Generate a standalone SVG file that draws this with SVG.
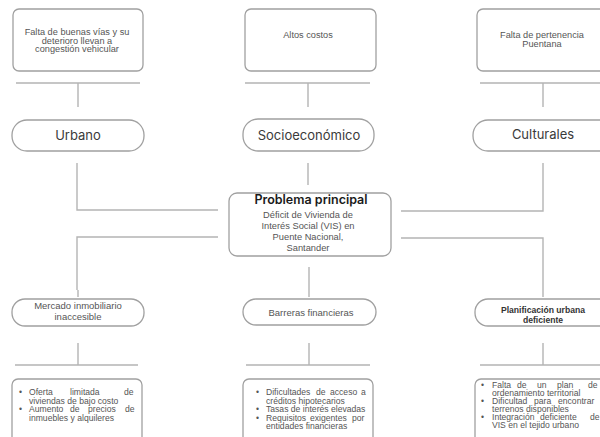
<svg xmlns="http://www.w3.org/2000/svg" width="600" height="437" viewBox="0 0 600 437">
<style>
.box{fill:#fff;stroke:#a0a0a0;stroke-width:1.3}
.ln{fill:none;stroke:#b4b4b4;stroke-width:1.4}
.sm{font-family:"Liberation Sans",Arial,sans-serif;font-size:9.2px;fill:#555}
.lb{font-family:Inter,"Liberation Sans",sans-serif;font-size:13px;fill:#3a3a3a}
.md{font-family:"Liberation Sans",Arial,sans-serif;font-size:9.3px;fill:#555}
.pl{font-family:"Liberation Sans",Arial,sans-serif;font-size:9.5px;fill:#555}
.ls{font-family:"Liberation Sans",Arial,sans-serif;font-size:8.6px;fill:#555}
.c{text-anchor:middle}
</style>
<rect width="600" height="437" fill="#fff"/>
<g id="connectors">
<path class="ln" d="M16 83H140M78 83V107"/>
<path class="ln" d="M245 83H370M308 83V107"/>
<path class="ln" d="M480 83H600M543 83V107"/>
<path class="ln" d="M77 163V210H218M218 237H77V290"/>
<path class="ln" d="M543 163V211H401M401 238H543V290"/>
<path class="ln" d="M308 163V185M309 267V290"/>
<path class="ln" d="M78 290V297M309 290V297M543 290V297"/>
<path class="ln" d="M78 343V365M15 365H138"/>
<path class="ln" d="M309 343V365M246 365H370"/>
<path class="ln" d="M543 343V365M480 365H600"/>
</g>
<g id="n-vias">
<rect class="box" x="13" y="9" width="130" height="62" rx="6"/>
<text class="sm c" x="77" y="35">Falta de buenas vías y su</text>
<text class="sm c" x="77" y="43.5">deterioro llevan a</text>
<text class="sm c" x="77" y="52">congestión vehicular</text>
</g>
<g id="n-costos">
<rect class="box" x="245" y="9" width="131" height="62" rx="6"/>
<text class="sm c" x="308" y="38">Altos costos</text>
</g>
<g id="n-pertenencia">
<rect class="box" x="477" y="9" width="140" height="62" rx="6"/>
<text class="sm c" x="542" y="38">Falta de pertenencia</text>
<text class="sm c" x="542" y="46.5">Puentana</text>
</g>
<g id="n-urbano">
<rect class="box" x="12" y="120" width="132" height="31" rx="15"/>
<text class="lb c" x="78" y="140">Urbano</text>
</g>
<g id="n-socio">
<rect class="box" x="243" y="119" width="131" height="32" rx="15"/>
<text class="lb c" x="309" y="140">Socioeconómico</text>
</g>
<g id="n-culturales">
<rect class="box" x="473" y="120" width="150" height="31" rx="15"/>
<text class="lb c" x="543" y="139">Culturales</text>
</g>
<g id="n-principal">
<rect class="box" x="229" y="193" width="162" height="63" rx="8"/>
<text class="c" x="311" y="204" style="font-family:Inter,'Liberation Sans',sans-serif;font-size:12.5px;font-weight:600;fill:#1a1a1a">Problema principal</text>
<text class="md c" x="308" y="218">Déficit de Vivienda de</text>
<text class="md c" x="308" y="229">Interés Social (VIS) en</text>
<text class="md c" x="308" y="240">Puente Nacional,</text>
<text class="md c" x="308" y="251">Santander</text>
</g>
<g id="n-mercado">
<rect class="box" x="12" y="299" width="132" height="27" rx="13"/>
<text class="pl c" x="78" y="309">Mercado inmobiliario</text>
<text class="pl c" x="78" y="319.5">inaccesible</text>
</g>
<g id="n-barreras">
<rect class="box" x="243" y="299" width="133" height="26" rx="13"/>
<text class="pl c" x="311" y="315.5">Barreras financieras</text>
</g>
<g id="n-planificacion">
<rect class="box" x="475" y="299" width="150" height="27" rx="13"/>
<text class="ls c" x="543" y="313" style="font-weight:bold;fill:#333">Planificación urbana</text>
<text class="ls c" x="543" y="323" style="font-weight:bold;fill:#333">deficiente</text>
</g>
<g id="n-lista1">
<rect class="box" x="12" y="379" width="130" height="70" rx="6"/>
<text class="ls" x="19" y="395">•</text>
<text class="ls" y="395"><tspan x="29">Oferta</tspan><tspan x="70">limitada</tspan><tspan x="124">de</tspan></text>
<text class="ls" x="29" y="403.5">viviendas de bajo costo</text>
<text class="ls" x="19" y="412">•</text>
<text class="ls" y="412"><tspan x="29">Aumento</tspan><tspan x="70">de</tspan><tspan x="88">precios</tspan><tspan x="125">de</tspan></text>
<text class="ls" x="29" y="420.5">inmuebles y alquileres</text>
</g>
<g id="n-lista2">
<rect class="box" x="243" y="379" width="130" height="70" rx="6"/>
<text class="ls" x="256" y="395">•</text>
<text class="ls" y="395"><tspan x="266">Dificultades</tspan><tspan x="316">de</tspan><tspan x="330">acceso</tspan><tspan x="361">a</tspan></text>
<text class="ls" x="266" y="403.5">créditos hipotecarios</text>
<text class="ls" x="256" y="412">•</text>
<text class="ls" x="266" y="412">Tasas de interés elevadas</text>
<text class="ls" x="256" y="420.5">•</text>
<text class="ls" y="420.5"><tspan x="266">Requisitos</tspan><tspan x="310">exigentes</tspan><tspan x="352">por</tspan></text>
<text class="ls" x="266" y="429">entidades financieras</text>
</g>
<g id="n-lista3">
<rect class="box" x="475" y="379" width="150" height="70" rx="6"/>
<text class="ls" x="481" y="388">•</text>
<text class="ls" y="388"><tspan x="492">Falta</tspan><tspan x="517">de</tspan><tspan x="537">un</tspan><tspan x="557">plan</tspan><tspan x="588">de</tspan></text>
<text class="ls" x="492" y="396">ordenamiento territorial</text>
<text class="ls" x="481" y="404">•</text>
<text class="ls" y="404"><tspan x="492">Dificultad</tspan><tspan x="534">para</tspan><tspan x="558">encontrar</tspan></text>
<text class="ls" x="492" y="412">terrenos disponibles</text>
<text class="ls" x="481" y="419.5">•</text>
<text class="ls" y="419.5"><tspan x="492">Integración</tspan><tspan x="540">deficiente</tspan><tspan x="590">de</tspan></text>
<text class="ls" x="492" y="427.5">VIS en el tejido urbano</text>
</g>
</svg>
